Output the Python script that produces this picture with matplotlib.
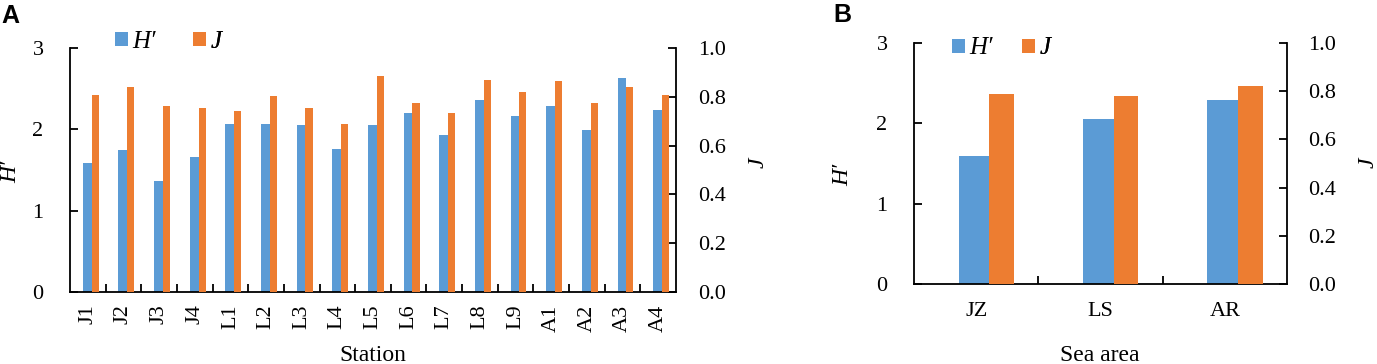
import matplotlib
matplotlib.use("Agg")
import matplotlib.pyplot as plt
import numpy as np
from matplotlib.ticker import FormatStrFormatter, FixedLocator

# ---- data ----
stations = ["J1", "J2", "J3", "J4", "L1", "L2", "L3", "L4", "L5", "L6", "L7",
            "L8", "L9", "A1", "A2", "A3", "A4"]
h_station = [1.58, 1.74, 1.37, 1.66, 2.06, 2.06, 2.05, 1.76, 2.05, 2.20, 1.93,
             2.36, 2.16, 2.29, 1.99, 2.63, 2.24]
j_station = [0.807, 0.841, 0.762, 0.754, 0.743, 0.803, 0.755, 0.688, 0.886, 0.776, 0.732,
             0.869, 0.821, 0.866, 0.776, 0.839, 0.806]

areas = ["JZ", "LS", "AR"]
h_area = [1.59, 2.06, 2.29]
j_area = [0.789, 0.782, 0.821]

BLUE = "#5B9BD5"
ORANGE = "#ED7D31"
W, H = 1377, 364
SERIF = "Liberation Serif"
FS = 16

plt.rcParams["font.family"] = SERIF

fig = plt.figure(figsize=(W / 100, H / 100), dpi=100)


def px(x0, y0, x1, y1):
    return [x0 / W, 1 - y1 / H, (x1 - x0) / W, (y1 - y0) / H]


def add_leg(ax, handle, label, x, y):
    leg = ax.legend([handle], [label], loc="center left",
                    bbox_to_anchor=(x / W, 1 - y / H),
                    bbox_transform=fig.transFigure, frameon=False,
                    prop={"family": SERIF, "style": "italic", "size": FS + 2},
                    handlelength=0.5, handleheight=0.5,
                    handletextpad=0.2, borderpad=0, borderaxespad=0)
    ax.add_artist(leg)


def panel(rect, cats, hv, jv, lp, rp, xpad, rot, legx, legy):
    ax = fig.add_axes(rect)
    ax2 = ax.twinx()
    n = len(cats)
    x = np.arange(n) + 0.5
    bl = ax.bar(x - 0.14, hv, width=0.245, align="edge", color=BLUE, zorder=2)
    orr = ax2.bar(x + 0.105, jv, width=0.2, align="edge", color=ORANGE, zorder=2)
    ax.set_xlim(0, n)
    ax.set_ylim(0, 3)
    ax2.set_ylim(0, 1)
    ax.set_yticks([0, 1, 2, 3])
    ax2.set_yticks(np.arange(0, 1.01, 0.2))
    ax2.yaxis.set_major_formatter(FormatStrFormatter("%.1f"))
    ax.set_xticks(x)
    ax.set_xticklabels(cats, rotation=rot, fontsize=FS)
    ax.xaxis.set_minor_locator(FixedLocator(np.arange(1, n)))
    ax.tick_params(axis="x", which="major", length=0, pad=xpad)
    ax.tick_params(axis="x", which="minor", direction="in", length=6, width=1.3)
    ax.tick_params(axis="y", direction="in", length=6, width=1.3, pad=lp, labelsize=FS)
    ax2.tick_params(axis="y", direction="in", length=6, width=1.3, pad=rp, labelsize=FS)
    for a in (ax, ax2):
        a.spines["top"].set_visible(False)
        for s in ("left", "right", "bottom"):
            a.spines[s].set_linewidth(1.3)
    ax.spines["right"].set_visible(False)
    ax2.spines["left"].set_visible(False)
    ax2.spines["bottom"].set_visible(False)
    add_leg(ax2, bl, "H\u2032", legx[0], legy)
    add_leg(ax2, orr, "J", legx[1], legy)
    return ax, ax2


axA, axA2 = panel(px(70, 48, 676, 292), stations, h_station, j_station,
                  19, 16, 9, 90, (115, 193), 42)
axB, axB2 = panel(px(914, 43, 1287, 284), areas, h_area, j_area,
                  19, 15, 13, 0, (952, 1022), 48.5)

# x-axis titles (kept just inside the bottom edge)
fig.text(373 / W, 1 - 361 / H, "Station", ha="center", va="baseline", fontsize=FS + 1)
fig.text(1100 / W, 1 - 361 / H, "Sea area", ha="center", va="baseline", fontsize=FS + 1)

# y-axis titles
kw = dict(rotation=90, ha="center", va="center", fontsize=FS + 1, style="italic")
fig.text(11 / W, 1 - 172 / H, "H\u2032", **kw)
fig.text(758 / W, 1 - 163 / H, "J", **kw)
fig.text(843 / W, 1 - 175 / H, "H\u2032", **kw)
fig.text(1368 / W, 1 - 163 / H, "J", **kw)

# panel labels
fig.text(1 / W, 1 - 16 / H, "A", fontsize=18, fontweight="bold", family="Liberation Sans",
         ha="left", va="center")
fig.text(833 / W, 1 - 15 / H, "B", fontsize=18, fontweight="bold", family="Liberation Sans",
         ha="left", va="center")

fig.savefig("out.png", dpi=100)
